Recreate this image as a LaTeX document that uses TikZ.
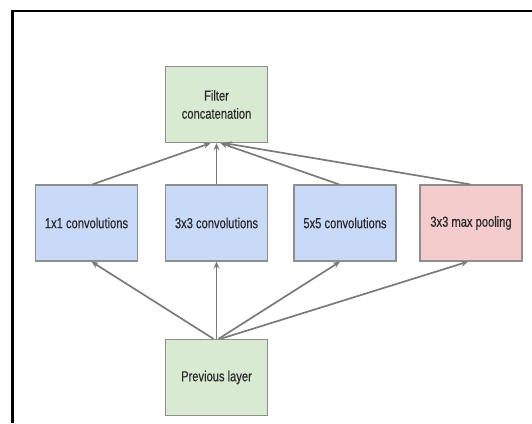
\documentclass[tikz,border=0pt]{standalone}
\usepackage{fontspec}
\setmainfont[FakeStretch=0.77, FakeBold=0.4]{Liberation Sans}
\usetikzlibrary{arrows.meta}

\definecolor{boxgreen}{HTML}{D9EAD3}
\definecolor{boxblue}{HTML}{C9DAF8}
\definecolor{boxpink}{HTML}{F4CCCC}
\definecolor{boxedge}{HTML}{8E8E8E}
\definecolor{linkgray}{HTML}{7A7A7A}
\definecolor{textgray}{HTML}{2A2A2A}

\begin{document}
\begin{tikzpicture}[x=1pt, y=-1pt,
  box/.style={draw=boxedge, line width=1.3pt, minimum width=102pt,
    minimum height=76pt, inner sep=0pt, text=textgray, align=center,
    font=\fontsize{14.5}{18}\selectfont},
  link/.style={draw=linkgray, line width=1.7pt,
    -{Stealth[length=7pt, width=6pt]}},
  frame/.style={line width=2.5pt, line join=miter}]

\useasboundingbox (0,0) rectangle (532,423);

% outer frame (left and top edges)
\draw[frame] (12.5,423) -- (12.5,11) -- (532,11);

% layers
\node[box, fill=boxgreen] (concat) at (216.5,104.5) {Filter\\concatenation};
\node[box, fill=boxblue]  (c1)     at (86.5,223)    {1x1 convolutions};
\node[box, fill=boxblue]  (c3)     at (216.5,223)   {3x3 convolutions};
\node[box, fill=boxblue]  (c5)     at (345,223)     {5x5 convolutions};
\node[box, fill=boxpink]  (pool)   at (471,223)     {3x3 max pooling};
\node[box, fill=boxgreen] (prev)   at (216.5,377.5) {Previous layer};

% previous layer feeds every branch
\draw[link] ([xshift=-3pt]prev.north) -- ([xshift=5pt]c1.south);
\draw[link] (prev.north) -- (c3.south);
\draw[link] ([xshift=2pt]prev.north) -- ([xshift=-5pt]c5.south);
\draw[link] ([xshift=4pt]prev.north) -- ([xshift=-3pt]pool.south);

% branches merge into the concatenation
\draw[link] ([xshift=6pt]c1.north) -- ([xshift=-6pt]concat.south);
\draw[link] (c3.north) -- (concat.south);
\draw[link] ([xshift=-6pt]c5.north) -- ([xshift=4pt]concat.south);
\draw[link] ([xshift=-1pt]pool.north) -- ([xshift=8pt]concat.south);

\end{tikzpicture}
\end{document}
